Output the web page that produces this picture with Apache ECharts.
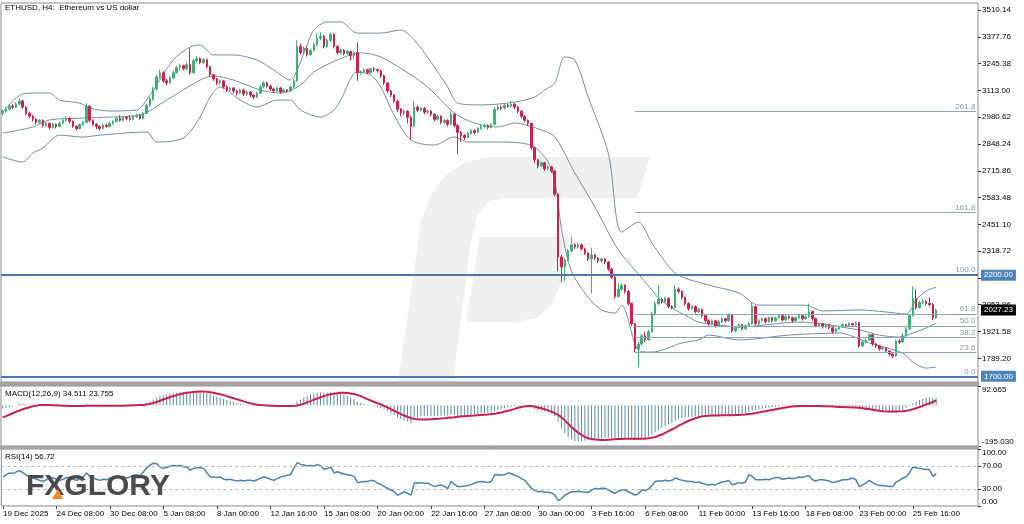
<!DOCTYPE html>
<html><head><meta charset="utf-8">
<script src="https://cdn.jsdelivr.net/npm/echarts@6/dist/echarts.min.js"></script>
<style>html,body{margin:0;padding:0;background:#fff}#c{width:1024px;height:524px}</style>
</head><body><div id="c"></div>
<script>
// ---------- DATA ----------
const timeLabels = ['19 Dec 2025','24 Dec 08:00','30 Dec 08:00','5 Jan 08:00','8 Jan 00:00','12 Jan 16:00','15 Jan 08:00','20 Jan 00:00','22 Jan 16:00','27 Jan 08:00','30 Jan 00:00','3 Feb 16:00','6 Feb 08:00','11 Feb 00:00','13 Feb 16:00','18 Feb 08:00','23 Feb 00:00','25 Feb 16:00'];
const priceTicks = [3510.14,3377.76,3245.38,3113.00,2980.62,2848.24,2715.86,2583.48,2451.10,2318.72,2186.34,2053.96,1921.58,1789.20];
const macdTicks = [92.665,-195.030];
const rsiTicks = [100,70,30,0];
const rsiLevels = [70,30];
const keyLevels = [2200,1700];
const lastPrice = 2027.23;
const fibLevels = [3009,2509,2200,2009,1950,1891,1818,1700];
const fibNames = ['261.8','161.8','100.0','61.8','50.0','38.2','23.6','0.0'];
const fibStartBar = 189;
// candles: [open, close, low, high]
const candles = [
[3000,3010,2990,3018],[3010,3020,3002,3030],[3020,3035,3012,3042],[3035,3030,3020,3045],[3030,3045,3025,3055],
[3045,3060,3038,3075],[3060,3030,3022,3068],[3030,3000,2990,3038],[3000,2985,2975,3008],[2985,2970,2960,2992],
[2970,2955,2945,2978],[2955,2965,2948,2972],[2965,2940,2930,2970],[2940,2950,2932,2958],[2950,2930,2918,2955],
[2930,2945,2925,2952],[2945,2935,2925,2950],[2935,2950,2930,2958],[2950,2965,2945,2972],[2965,2975,2958,2985],
[2975,2960,2952,2980],[2960,2935,2928,2965],[2935,2925,2915,2942],[2925,2945,2920,2950],[2945,2955,2938,2962],
[2955,3035,2950,3050],[3035,2965,2955,3040],[2965,2945,2935,2970],[2945,2935,2922,2950],[2935,2925,2915,2940],
[2925,2940,2920,2948],[2940,2935,2928,2946],[2935,2950,2930,2956],[2950,2960,2944,2966],[2960,2975,2955,2982],
[2975,2965,2958,2990],[2965,2980,2960,2986],[2980,2975,2966,2985],[2975,2970,2962,2990],[2970,2985,2965,2992],
[2985,2990,2976,2998],[2990,2975,2968,2996],[2975,3000,2970,3008],[3000,3040,2995,3048],[3040,3070,3032,3080],
[3070,3120,3062,3130],[3120,3180,3112,3190],[3180,3200,3170,3215],[3200,3160,3150,3208],[3160,3150,3140,3170],
[3150,3175,3145,3185],[3175,3200,3168,3210],[3200,3225,3195,3235],[3225,3235,3215,3245],[3235,3220,3212,3240],
[3220,3240,3215,3250],[3240,3200,3190,3320],[3200,3260,3195,3270],[3260,3270,3250,3282],[3270,3250,3242,3276],
[3250,3265,3244,3272],[3265,3230,3222,3270],[3230,3190,3180,3235],[3190,3170,3160,3195],[3170,3150,3140,3176],
[3150,3160,3142,3168],[3160,3130,3120,3165],[3130,3115,3105,3138],[3115,3125,3108,3132],[3125,3110,3098,3130],
[3110,3100,3088,3115],[3100,3115,3094,3122],[3115,3095,3085,3120],[3095,3105,3088,3112],[3105,3090,3080,3110],
[3090,3080,3068,3095],[3080,3100,3075,3106],[3100,3130,3095,3140],[3130,3150,3124,3158],[3150,3135,3126,3156],
[3135,3120,3110,3140],[3120,3110,3100,3126],[3110,3125,3104,3132],[3125,3105,3096,3130],[3105,3115,3100,3122],
[3115,3110,3102,3120],[3110,3130,3106,3136],[3130,3160,3125,3168],[3160,3330,3155,3360],[3330,3300,3290,3345],
[3300,3320,3292,3330],[3320,3290,3280,3328],[3290,3310,3284,3318],[3310,3340,3304,3350],[3340,3370,3332,3395],
[3370,3380,3360,3400],[3380,3330,3320,3386],[3330,3360,3324,3368],[3360,3390,3352,3398],[3390,3330,3320,3395],
[3330,3300,3290,3336],[3300,3310,3292,3318],[3310,3295,3286,3316],[3295,3305,3288,3312],[3305,3285,3260,3310],
[3285,3300,3270,3306],[3300,3200,3160,3350],[3200,3205,3190,3212],[3205,3215,3198,3222],[3215,3200,3192,3220],
[3200,3220,3195,3226],[3220,3215,3206,3228],[3215,3210,3200,3222],[3210,3185,3175,3215],[3185,3150,3140,3190],
[3150,3110,3100,3155],[3110,3090,3080,3116],[3090,3060,3050,3095],[3060,3020,3005,3066],[3020,3000,2985,3026],
[3000,3010,2990,3018],[3010,2980,2950,3015],[2980,2935,2870,2986],[2935,3030,2930,3060],[3030,3015,3005,3040],
[3015,3025,3008,3032],[3025,3005,2995,3030],[3005,3010,2998,3018],[3010,2995,2985,3016],[2995,2970,2960,3000],
[2970,2985,2964,2992],[2985,2955,2945,2990],[2955,2965,2948,2972],[2965,2945,2935,2970],[2945,2995,2940,3010],
[2995,2940,2930,3000],[2940,2905,2800,2945],[2905,2890,2860,2912],[2890,2880,2868,2896],[2880,2900,2875,2908],
[2900,2915,2894,2922],[2915,2905,2896,2920],[2905,2925,2900,2932],[2925,2935,2918,2942],[2935,2940,2926,2948],
[2940,2930,2920,2946],[2930,2945,2925,2952],[2945,3020,2940,3030],[3020,3030,3012,3040],[3030,3025,3015,3038],
[3025,3040,3018,3048],[3040,3035,3026,3046],[3035,3045,3028,3058],[3045,3030,3020,3050],[3030,3010,3000,3036],
[3010,2985,2975,3015],[2985,2965,2955,2990],[2965,2950,2938,2970],[2950,2830,2820,2955],[2830,2770,2755,2835],
[2770,2740,2728,2776],[2740,2755,2734,2762],[2755,2725,2715,2760],[2725,2735,2718,2742],[2735,2715,2705,2740],
[2715,2600,2590,2720],[2600,2290,2220,2605],[2290,2240,2165,2300],[2240,2275,2170,2282],[2275,2320,2268,2330],
[2320,2350,2312,2390],[2350,2340,2330,2358],[2340,2350,2332,2360],[2350,2330,2322,2356],[2330,2310,2300,2336],
[2310,2280,2270,2315],[2280,2300,2110,2335],[2300,2285,2275,2306],[2285,2270,2260,2290],[2270,2280,2262,2288],
[2280,2265,2255,2285],[2265,2230,2220,2270],[2230,2190,2180,2235],[2190,2095,2085,2195],[2095,2130,2090,2160],
[2130,2150,2124,2158],[2150,2120,2110,2155],[2120,2060,2050,2126],[2060,1960,1950,2065],[1960,1835,1820,1965],
[1835,1860,1745,1870],[1860,1900,1852,1910],[1900,1880,1870,1920],[1880,1920,1875,1930],[1920,2010,1915,2020],
[2010,2060,2000,2070],[2060,2080,2052,2150],[2080,2070,2060,2088],[2070,2085,2062,2094],[2085,2045,2035,2090],
[2045,2040,2030,2052],[2040,2130,2036,2150],[2130,2120,2110,2140],[2120,2090,2080,2126],[2090,2060,2050,2095],
[2060,2035,2025,2066],[2035,2045,2028,2052],[2045,2020,2010,2050],[2020,2030,2012,2038],[2030,2000,1990,2036],
[2000,1975,1965,2006],[1975,1960,1950,1982],[1960,1975,1952,1982],[1975,1950,1940,1980],[1950,1970,1945,1978],
[1970,1985,1964,1992],[1985,1975,1966,1990],[1975,2005,1970,2012],[2005,1925,1915,2010],[1925,1940,1918,1948],
[1940,1955,1935,1962],[1955,1935,1926,1960],[1935,1950,1930,1958],[1950,1960,1944,1968],[1960,2045,1955,2065],
[2045,1960,1950,2050],[1960,1975,1952,1982],[1975,1985,1968,1992],[1985,1970,1962,1990],[1970,1990,1965,1996],
[1990,1975,1966,1995],[1975,1990,1970,1996],[1990,2000,1984,2008],[2000,1980,1972,2005],[1980,1995,1975,2002],
[1995,1990,1982,2000],[1990,1975,1966,1995],[1975,1990,1970,1996],[1990,2000,1984,2006],[2000,1985,1976,2004],
[1985,1995,1980,2002],[1995,2020,1990,2060],[2020,1985,1975,2025],[1985,1950,1942,1990],[1950,1960,1944,1966],
[1960,1945,1936,1965],[1945,1955,1940,1962],[1955,1940,1932,1960],[1940,1920,1910,1945],[1920,1935,1915,1940],
[1935,1945,1930,1952],[1945,1955,1940,1962],[1955,1950,1942,1960],[1950,1960,1945,1966],[1960,1955,1946,1964],
[1955,1965,1950,1972],[1965,1850,1842,1970],[1850,1870,1845,1878],[1870,1880,1862,1888],[1880,1905,1875,1912],
[1905,1860,1850,1910],[1860,1850,1840,1866],[1850,1835,1826,1856],[1835,1840,1828,1848],[1840,1825,1815,1845],
[1825,1810,1800,1830],[1810,1800,1790,1815],[1800,1875,1796,1882],[1875,1870,1860,1885],[1870,1900,1866,1912],
[1900,1935,1895,1945],[1935,2000,1930,2010],[2000,2085,1995,2145],[2085,2040,2030,2130],[2040,2065,2035,2075],
[2065,2070,2058,2080],[2070,2060,2050,2078],[2060,2055,2045,2090],[2055,1990,1978,2062],[1990,2027.23,1985,2035]
];
// Bollinger bands: [bar, price]
const bbUpper = [[0,3006],[6,3095],[11,3100],[14,3100],[17,3065],[23,3050],[26,3026],[32,3011],[40,3016],[43,3065],[51,3263],[56,3327],[59,3337],[63,3288],[69,3288],[76,3263],[81,3214],[86,3164],[88,3214],[91,3337],[93,3411],[97,3451],[101,3451],[106,3396],[113,3396],[119,3411],[123,3362],[128,3253],[133,3130],[136,3050],[143,3041],[153,3055],[159,3080],[162,3115],[165,3149],[168,3278],[171,3263],[175,3080],[181,2803],[185,2413],[190,2462],[194,2359],[200,2225],[203,2191],[211,2151],[220,2112],[226,2052],[240,2052],[245,2023],[256,2028],[264,2018],[270,2008],[273,2077],[276,2122],[279,2141]];
const bbMiddle = [[0,2902],[9,2932],[14,2967],[24,2976],[32,2981],[41,2991],[49,3065],[59,3164],[63,3184],[69,3164],[77,3115],[83,3100],[89,3139],[93,3204],[100,3263],[107,3298],[113,3278],[123,3179],[128,3115],[135,3001],[141,2952],[148,2932],[153,2952],[161,2917],[165,2883],[171,2705],[177,2537],[184,2324],[189,2225],[194,2127],[196,2087],[200,2038],[205,1993],[208,1968],[214,1954],[220,1944],[238,1968],[256,1929],[262,1904],[268,1894],[272,1914],[276,1939],[279,1963]];
const bbLower = [[0,2784],[6,2759],[9,2803],[12,2828],[17,2892],[24,2882],[29,2892],[43,2907],[46,2858],[54,2878],[59,2981],[62,3080],[65,3130],[71,3065],[76,3031],[82,3065],[86,3065],[89,3016],[95,2981],[99,3016],[101,3065],[106,3204],[110,3189],[113,3130],[117,2991],[122,2868],[129,2843],[135,2883],[139,2858],[147,2858],[155,2853],[159,2833],[163,2760],[165,2670],[167,2430],[170,2220],[175,2090],[179,2028],[183,2013],[185,2052],[190,1830],[194,1820],[203,1865],[208,1880],[211,1904],[220,1880],[235,1904],[250,1914],[259,1865],[269,1815],[272,1771],[276,1741],[279,1746]];
const macdMain = [
-15,-12,-8,-4,2,6,8,6,4,2, 0,-2,-4,-5,-6,-5,-4,-3,-2,-2, -3,-4,-4,-3,-2,4,2,-1,-3,-4, -4,-4,-3,-2,-1,-1,0,1,1,2,
3,3,6,13,20,28,38,45,48,52, 55,58,61,63,64,65,64,65,66,65, 63,58,52,46,40,35,30,25,20,16, 11,8,4,2,0,-3,-4,-3,-2,-3,
-4,-5,-4,-5,-5,-4,-3,0,18,28, 38,45,52,56,60,63,62,62,63,62, 60,58,52,45,37,30,20,12,6,2, 0,-3,-8,-14,-19,-28,-38,-48,-58,-66,
-72,-76,-84,-70,-58,-52,-50,-50,-51,-52, -52,-50,-50,-48,-44,-46,-50,-51,-50,-48, -46,-44,-42,-40,-38,-36,-34,-28,-22,-18, -14,-10,-7,-4,-2,-2,-3,-5,-12,-18,
-22,-26,-30,-34,-40,-52,-80,-110,-135,-152, -164,-172,-174,-172,-170,-168,-164,-162,-160,-158, -156,-156,-158,-162,-162,-160,-158,-160,-164,-168, -168,-164,-158,-150,-140,-128,-118,-108,-100,-92,
-84,-74,-66,-62,-58,-55,-55,-54,-52,-51, -52,-52,-53,-52,-50,-49,-48,-46,-46,-47, -46,-44,-40,-32,-26,-24,-20,-17,-14,-11, -8,-7,-6,-5,-4,-3,-3,-4,-3,-2,
-2,-1,-2,-3,-4,-5,-5,-6,-7,-8, -8,-8,-9,-9,-10,-10,-14,-18,-21,-24, -26,-28,-30,-33,-35,-37,-38,-36,-30,-22, -12,-3,8,18,25,30,36,37,35,34.511
];
const macdSignal = [
-58,-52,-45,-38,-31,-25,-19,-14,-9,-5, -2,1,2,2,1,0,0,-1,-2,-2, -3,-3,-3,-3,-3,-2,-2,-2,-2,-2, -2,-2,-2,-2,-2,-2,-2,-1,-1,0,
0,1,2,4,7,11,16,22,28,34, 39,44,49,53,57,60,62,64,65,66, 66,65,63,60,57,53,49,44,39,34, 29,24,19,14,10,6,3,1,0,-1,
-2,-2,-3,-3,-3,-3,-3,-3,-1,3, 8,14,20,27,33,39,44,49,53,56, 58,60,60,59,57,54,50,44,37,30, 23,16,10,4,-3,-10,-18,-26,-34,-42,
-49,-55,-61,-65,-67,-68,-68,-68,-67,-66, -65,-63,-62,-60,-58,-57,-55,-53,-52,-51, -50,-49,-47,-46,-45,-44,-42,-40,-37,-34, -30,-26,-22,-17,-12,-8,-5,-3,-3,-6,
-10,-14,-19,-24,-30,-37,-46,-58,-72,-88, -104,-118,-131,-142,-151,-158,-162,-164,-165,-166, -166,-165,-164,-163,-162,-161,-160,-160,-160,-160, -160,-160,-160,-158,-156,-152,-146,-140,-132,-124,
-116,-108,-98,-90,-82,-74,-68,-62,-57,-53, -51,-50,-49,-49,-49,-48,-48,-47,-47,-46, -46,-45,-44,-42,-40,-37,-34,-31,-28,-25, -22,-19,-16,-13,-10,-8,-6,-4,-3,-3,
-3,-3,-3,-3,-3,-4,-4,-5,-6,-7, -8,-8,-9,-9,-10,-11,-12,-14,-16,-18, -21,-24,-26,-28,-29,-30,-30,-30,-29,-28, -26,-23,-19,-14,-8,-3,4,10,16,23.755
];
const rsi = [
51,55,58,57,60,62,58,54,51,49, 47,45,43,46,51,49,47,45,47,50, 50,47,45,48,51,58,52,49,47,45, 47,46,49,50,51,50,52,49,51,54,
55,53,60,67,72,75,74,68,66,68, 70,71,70,71,69,68,63,66,67,67, 66,58,51,51,50,51,47,46,47,45, 44,45,44,45,45,44,46,49,51,49,
47,45,48,51,52,54,55,67,76,73, 72,70,71,70,73,70,64,66,68,58, 60,58,56,55,54,52,41,42,43,43, 45,44,40,38,34,31,28,25,19,22,
25,22,19,41,40,41,40,40,37,34, 36,37,34,31,43,38,34,34,35,36, 38,40,42,43,42,41,43,55,55,54, 55,58,57,54,52,48,45,38,31,27,
25,26,24,24,23,19,10,13,19,22, 25,25,26,25,24,24,28,31,30,31, 31,28,25,22,26,28,28,25,22,19, 22,28,27,30,36,43,44,44,45,44,
45,49,47,45,44,43,43,41,42,40, 38,37,38,37,40,42,43,45,37,39, 41,40,42,55,52,46,46,46,47,46, 48,50,50,47,48,49,48,49,51,50,
52,53,46,44,46,46,45,44,41,42, 44,46,46,47,49,46,34,37,40,45, 41,38,36,36,35,34,34,42,45,49, 51,58,68,67,66,65,64,64,52,56.72
];

// ---------- CHART ----------
const SLOTS = 292;
const cats = Array.from({length: SLOTS}, (_, i) => String(i));
const FONT = '"Liberation Sans", Arial, sans-serif';
const tickEvery = (i) => i % 16 === 0 && (i / 16) < timeLabels.length;

const chart = echarts.init(document.getElementById('c'), null, {renderer: 'canvas'});

const gridBase = {left: 1, right: 46, show: true, borderColor: '#8a8a8a', borderWidth: 1, backgroundColor: 'transparent'};
const xBase = (i) => ({type: 'category', gridIndex: i, data: cats, boundaryGap: true,
  axisLine: {show: false}, axisTick: {show: false}, axisLabel: {show: false}, splitLine: {show: false}});

const x2 = xBase(2);
x2.axisTick = {show: true, alignWithLabel: true, interval: tickEvery, length: 3, lineStyle: {color: '#444'}};
x2.axisLabel = {show: true, interval: tickEvery, formatter: (v, i) => timeLabels[i / 16] || '',
  align: 'left', fontSize: 8, color: '#000', margin: 4, fontFamily: FONT};

const fibMarks = fibLevels.map((v, k) => [
  {coord: [fibStartBar, v], lineStyle: {color: '#8aa6bd', width: 1, type: 'solid'},
   label: {show: true, position: 'insideEndTop', formatter: fibNames[k], color: '#7f9ab0', fontSize: 8, fontFamily: FONT, distance: 1}},
  {coord: [SLOTS - 1, v]}
]);
const keyMarks = keyLevels.map(v => ({yAxis: v, lineStyle: {color: '#4a7aab', width: 2, type: 'solid'},
  label: {show: true, position: 'end', formatter: v.toFixed(2), backgroundColor: '#4f84b8', color: '#fff',
    padding: [2, 3, 1, 3], fontSize: 8, fontFamily: FONT, distance: 3}}));
const lastMark = {yAxis: lastPrice, lineStyle: {color: 'rgba(0,0,0,0)', width: 1},
  label: {show: true, position: 'end', formatter: lastPrice.toFixed(2), backgroundColor: '#000', color: '#fff',
    padding: [2, 3, 1, 3], fontSize: 8, fontFamily: FONT, distance: 3}};

const bandStyle = {color: '#6f8fa9', width: 1};

const option = {
  animation: false,
  backgroundColor: '#fff',
  grid: [
    Object.assign({top: 3, height: 379}, gridBase),
    Object.assign({top: 386, height: 60}, gridBase),
    Object.assign({top: 449, height: 57}, gridBase)
  ],
  xAxis: [xBase(0), xBase(1), x2],
  yAxis: [
    {type: 'value', gridIndex: 0, position: 'right', min: 1672.09, max: 3544.73, scale: true,
     splitLine: {show: false}, axisLine: {show: false},
     axisTick: {show: true, customValues: priceTicks, length: 3, lineStyle: {color: '#333'}},
     axisLabel: {customValues: priceTicks, formatter: v => v.toFixed(2), fontSize: 8, color: '#000', margin: 4, fontFamily: FONT}},
    {type: 'value', gridIndex: 1, position: 'right', min: -195.03, max: 92.665,
     splitLine: {show: false}, axisLine: {show: false},
     axisTick: {show: true, customValues: macdTicks, length: 3, lineStyle: {color: '#333'}},
     axisLabel: {customValues: macdTicks, fontSize: 8, color: '#000', margin: 4, fontFamily: FONT,
       formatter: v => v > 0 ? '{t|' + v.toFixed(3) + '}' : '{b|' + v.toFixed(3) + '}',
       rich: {t: {padding: [8, 0, 0, 0], fontSize: 8, fontFamily: FONT}, b: {padding: [0, 0, 8, 0], fontSize: 8, fontFamily: FONT}}}},
    {type: 'value', gridIndex: 2, position: 'right', min: 0, max: 100,
     splitLine: {show: false}, axisLine: {show: false},
     axisTick: {show: true, customValues: rsiTicks, length: 3, lineStyle: {color: '#333'}},
     axisLabel: {customValues: rsiTicks, fontSize: 8, color: '#000', margin: 4, fontFamily: FONT,
       formatter: v => v === 100 ? '{t|100.00}' : (v === 0 ? '{b|0.00}' : v.toFixed(2)),
       rich: {t: {padding: [8, 0, 0, 0], fontSize: 8, fontFamily: FONT}, b: {padding: [0, 0, 8, 0], fontSize: 8, fontFamily: FONT}}}}
  ],
  series: [
    {type: 'line', name: 'bbUpper', xAxisIndex: 0, yAxisIndex: 0, data: bbUpper, showSymbol: false, smooth: 0.3,
     lineStyle: bandStyle, z: 3, silent: true},
    {type: 'line', name: 'bbMiddle', xAxisIndex: 0, yAxisIndex: 0, data: bbMiddle, showSymbol: false, smooth: 0.3,
     lineStyle: bandStyle, z: 3, silent: true,
     markLine: {symbol: ['none', 'none'], silent: true, animation: false,
       data: fibMarks.concat(keyMarks, [lastMark])}},
    {type: 'line', name: 'bbLower', xAxisIndex: 0, yAxisIndex: 0, data: bbLower, showSymbol: false, smooth: 0.3,
     lineStyle: bandStyle, z: 3, silent: true},
    {type: 'candlestick', name: 'ETHUSD', xAxisIndex: 0, yAxisIndex: 0, data: candles, barWidth: 2, z: 4,
     itemStyle: {color: '#3cb371', color0: '#d31f4e', borderColor: '#3cb371', borderColor0: '#d31f4e', borderWidth: 1}},
    {type: 'bar', name: 'MACD', xAxisIndex: 1, yAxisIndex: 1, data: macdMain, barWidth: 1,
     itemStyle: {color: '#5b8db5'}, silent: true},
    {type: 'line', name: 'Signal', xAxisIndex: 1, yAxisIndex: 1, data: macdSignal, showSymbol: false,
     lineStyle: {color: '#c8234d', width: 2}, z: 3, silent: true},
    {type: 'line', name: 'RSI', xAxisIndex: 2, yAxisIndex: 2, data: rsi, showSymbol: false,
     lineStyle: {color: '#4a84b0', width: 1.5}, silent: true,
     markLine: {symbol: ['none', 'none'], silent: true, label: {show: false},
       lineStyle: {color: '#b5b5b5', type: [3, 3], width: 1}, data: rsiLevels.map(v => ({yAxis: v}))}}
  ],
  graphic: [
    // faint logo watermark
    {type: 'polygon', z: 0, silent: true, shape: {points: [[650,157],[490,157],[466,162],[446,175],[431,195],[421,222],[398,381],[453,381],[471,242],[477,216],[488,202],[502,198],[637,198]]}, style: {fill: '#f0f0f0'}},
    {type: 'polygon', z: 0, silent: true, shape: {points: [[480,237],[570,237],[562,280],[552,304],[537,318],[515,322],[466,322]]}, style: {fill: '#f0f0f0'}},
    // panel separators
    {type: 'rect', z: 10, silent: true, shape: {x: 0, y: 382, width: 979, height: 4}, style: {fill: '#a3a3a3'}},
    {type: 'rect', z: 10, silent: true, shape: {x: 0, y: 446, width: 979, height: 3}, style: {fill: '#a3a3a3'}},
    // titles
    {type: 'text', z: 20, left: 5, top: 4, style: {text: 'ETHUSD, H4:  Ethereum vs US dollar', fill: '#000', font: '8px ' + FONT}},
    {type: 'text', z: 20, left: 5, top: 390, style: {text: 'MACD(12,26,9) 34.511 23.755', fill: '#000', font: '8px ' + FONT}},
    {type: 'text', z: 20, left: 5, top: 453, style: {text: 'RSI(14) 56.72', fill: '#000', font: '8px ' + FONT}},
    // brand logo
    {type: 'text', z: 20, left: 26, top: 472, style: {text: 'FXGLORY', fill: '#4b4b4b', font: 'bold 30px ' + FONT}},
    {type: 'polygon', z: 21, silent: true, shape: {points: [[52,499],[58,489],[63,499]]}, style: {fill: '#ef8a2a'}}
  ]
};
chart.setOption(option);
</script>
</body></html>
